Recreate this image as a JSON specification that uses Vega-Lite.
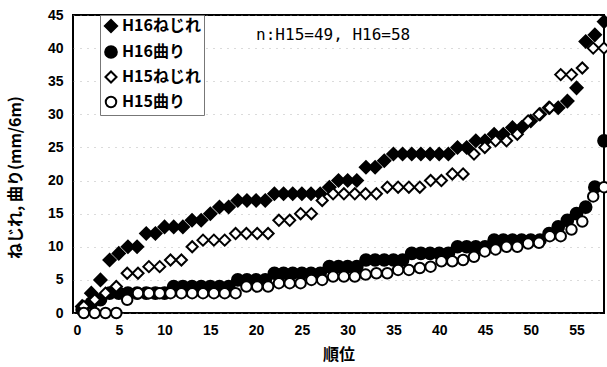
{
  "$schema": "https://vega.github.io/schema/vega-lite/v6.json",
  "width": 531,
  "height": 298,
  "autosize": {"type": "none"},
  "padding": {"left": 73, "top": 15, "right": 3, "bottom": 54},
  "background": "white",
  "config": {
    "view": {"stroke": "black", "strokeWidth": 2},
    "font": "Liberation Sans",
    "legend": {
      "title": null,
      "orient": "none", "legendX": 27, "legendY": 0,
      "labelFont": "Noto Sans CJK JP", "labelFontSize": 16, "labelFontWeight": "bold",
      "labelColor": "black", "labelOffset": 3,
      "symbolStrokeWidth": 2, "rowPadding": 5,
      "padding": 3, "fillColor": "white", "strokeColor": "#777777"
    }
  },
  "datasets": {
    "points": [
      {"series": "H16ねじれ", "pos": 1, "value": 1}, {"series": "H16ねじれ", "pos": 2, "value": 3}, {"series": "H16ねじれ", "pos": 3, "value": 5}, {"series": "H16ねじれ", "pos": 4, "value": 8}, {"series": "H16ねじれ", "pos": 5, "value": 9}, {"series": "H16ねじれ", "pos": 6, "value": 10}, {"series": "H16ねじれ", "pos": 7, "value": 10}, {"series": "H16ねじれ", "pos": 8, "value": 12}, {"series": "H16ねじれ", "pos": 9, "value": 12}, {"series": "H16ねじれ", "pos": 10, "value": 13},
      {"series": "H16ねじれ", "pos": 11, "value": 13}, {"series": "H16ねじれ", "pos": 12, "value": 13}, {"series": "H16ねじれ", "pos": 13, "value": 14}, {"series": "H16ねじれ", "pos": 14, "value": 14}, {"series": "H16ねじれ", "pos": 15, "value": 15}, {"series": "H16ねじれ", "pos": 16, "value": 16}, {"series": "H16ねじれ", "pos": 17, "value": 16}, {"series": "H16ねじれ", "pos": 18, "value": 17}, {"series": "H16ねじれ", "pos": 19, "value": 17}, {"series": "H16ねじれ", "pos": 20, "value": 17},
      {"series": "H16ねじれ", "pos": 21, "value": 17}, {"series": "H16ねじれ", "pos": 22, "value": 18}, {"series": "H16ねじれ", "pos": 23, "value": 18}, {"series": "H16ねじれ", "pos": 24, "value": 18}, {"series": "H16ねじれ", "pos": 25, "value": 18}, {"series": "H16ねじれ", "pos": 26, "value": 18}, {"series": "H16ねじれ", "pos": 27, "value": 18}, {"series": "H16ねじれ", "pos": 28, "value": 19}, {"series": "H16ねじれ", "pos": 29, "value": 20}, {"series": "H16ねじれ", "pos": 30, "value": 20},
      {"series": "H16ねじれ", "pos": 31, "value": 20}, {"series": "H16ねじれ", "pos": 32, "value": 22}, {"series": "H16ねじれ", "pos": 33, "value": 22}, {"series": "H16ねじれ", "pos": 34, "value": 23}, {"series": "H16ねじれ", "pos": 35, "value": 24}, {"series": "H16ねじれ", "pos": 36, "value": 24}, {"series": "H16ねじれ", "pos": 37, "value": 24}, {"series": "H16ねじれ", "pos": 38, "value": 24}, {"series": "H16ねじれ", "pos": 39, "value": 24}, {"series": "H16ねじれ", "pos": 40, "value": 24},
      {"series": "H16ねじれ", "pos": 41, "value": 24}, {"series": "H16ねじれ", "pos": 42, "value": 25}, {"series": "H16ねじれ", "pos": 43, "value": 25}, {"series": "H16ねじれ", "pos": 44, "value": 26}, {"series": "H16ねじれ", "pos": 45, "value": 26}, {"series": "H16ねじれ", "pos": 46, "value": 27}, {"series": "H16ねじれ", "pos": 47, "value": 27}, {"series": "H16ねじれ", "pos": 48, "value": 28}, {"series": "H16ねじれ", "pos": 49, "value": 28}, {"series": "H16ねじれ", "pos": 50, "value": 29},
      {"series": "H16ねじれ", "pos": 51, "value": 30}, {"series": "H16ねじれ", "pos": 52, "value": 31}, {"series": "H16ねじれ", "pos": 53, "value": 31}, {"series": "H16ねじれ", "pos": 54, "value": 32}, {"series": "H16ねじれ", "pos": 55, "value": 34}, {"series": "H16ねじれ", "pos": 56, "value": 41}, {"series": "H16ねじれ", "pos": 57, "value": 42}, {"series": "H16ねじれ", "pos": 58, "value": 44},

      {"series": "H16曲り", "pos": 1, "value": 0.5}, {"series": "H16曲り", "pos": 2, "value": 1.5}, {"series": "H16曲り", "pos": 3, "value": 2}, {"series": "H16曲り", "pos": 4, "value": 3}, {"series": "H16曲り", "pos": 5, "value": 3}, {"series": "H16曲り", "pos": 6, "value": 3}, {"series": "H16曲り", "pos": 7, "value": 3}, {"series": "H16曲り", "pos": 8, "value": 3}, {"series": "H16曲り", "pos": 9, "value": 3}, {"series": "H16曲り", "pos": 10, "value": 3},
      {"series": "H16曲り", "pos": 11, "value": 4}, {"series": "H16曲り", "pos": 12, "value": 4}, {"series": "H16曲り", "pos": 13, "value": 4}, {"series": "H16曲り", "pos": 14, "value": 4}, {"series": "H16曲り", "pos": 15, "value": 4}, {"series": "H16曲り", "pos": 16, "value": 4}, {"series": "H16曲り", "pos": 17, "value": 4}, {"series": "H16曲り", "pos": 18, "value": 5}, {"series": "H16曲り", "pos": 19, "value": 5}, {"series": "H16曲り", "pos": 20, "value": 5},
      {"series": "H16曲り", "pos": 21, "value": 5}, {"series": "H16曲り", "pos": 22, "value": 6}, {"series": "H16曲り", "pos": 23, "value": 6}, {"series": "H16曲り", "pos": 24, "value": 6}, {"series": "H16曲り", "pos": 25, "value": 6}, {"series": "H16曲り", "pos": 26, "value": 6}, {"series": "H16曲り", "pos": 27, "value": 6}, {"series": "H16曲り", "pos": 28, "value": 7}, {"series": "H16曲り", "pos": 29, "value": 7}, {"series": "H16曲り", "pos": 30, "value": 7},
      {"series": "H16曲り", "pos": 31, "value": 7}, {"series": "H16曲り", "pos": 32, "value": 8}, {"series": "H16曲り", "pos": 33, "value": 8}, {"series": "H16曲り", "pos": 34, "value": 8}, {"series": "H16曲り", "pos": 35, "value": 8}, {"series": "H16曲り", "pos": 36, "value": 8}, {"series": "H16曲り", "pos": 37, "value": 9}, {"series": "H16曲り", "pos": 38, "value": 9}, {"series": "H16曲り", "pos": 39, "value": 9}, {"series": "H16曲り", "pos": 40, "value": 9},
      {"series": "H16曲り", "pos": 41, "value": 9}, {"series": "H16曲り", "pos": 42, "value": 10}, {"series": "H16曲り", "pos": 43, "value": 10}, {"series": "H16曲り", "pos": 44, "value": 10}, {"series": "H16曲り", "pos": 45, "value": 10}, {"series": "H16曲り", "pos": 46, "value": 11}, {"series": "H16曲り", "pos": 47, "value": 11}, {"series": "H16曲り", "pos": 48, "value": 11}, {"series": "H16曲り", "pos": 49, "value": 11}, {"series": "H16曲り", "pos": 50, "value": 11},
      {"series": "H16曲り", "pos": 51, "value": 11}, {"series": "H16曲り", "pos": 52, "value": 12}, {"series": "H16曲り", "pos": 53, "value": 13}, {"series": "H16曲り", "pos": 54, "value": 14}, {"series": "H16曲り", "pos": 55, "value": 15}, {"series": "H16曲り", "pos": 56, "value": 16}, {"series": "H16曲り", "pos": 57, "value": 19}, {"series": "H16曲り", "pos": 58, "value": 26},

      {"series": "H15ねじれ", "pos": 1.18, "value": 1}, {"series": "H15ねじれ", "pos": 2.37, "value": 2}, {"series": "H15ねじれ", "pos": 3.55, "value": 3}, {"series": "H15ねじれ", "pos": 4.73, "value": 4}, {"series": "H15ねじれ", "pos": 5.92, "value": 6}, {"series": "H15ねじれ", "pos": 7.1, "value": 6}, {"series": "H15ねじれ", "pos": 8.29, "value": 7}, {"series": "H15ねじれ", "pos": 9.47, "value": 7}, {"series": "H15ねじれ", "pos": 10.65, "value": 8}, {"series": "H15ねじれ", "pos": 11.84, "value": 8},
      {"series": "H15ねじれ", "pos": 13.02, "value": 10}, {"series": "H15ねじれ", "pos": 14.2, "value": 11}, {"series": "H15ねじれ", "pos": 15.39, "value": 11}, {"series": "H15ねじれ", "pos": 16.57, "value": 11}, {"series": "H15ねじれ", "pos": 17.76, "value": 12}, {"series": "H15ねじれ", "pos": 18.94, "value": 12}, {"series": "H15ねじれ", "pos": 20.12, "value": 12}, {"series": "H15ねじれ", "pos": 21.31, "value": 12}, {"series": "H15ねじれ", "pos": 22.49, "value": 14}, {"series": "H15ねじれ", "pos": 23.67, "value": 14},
      {"series": "H15ねじれ", "pos": 24.86, "value": 15}, {"series": "H15ねじれ", "pos": 26.04, "value": 15}, {"series": "H15ねじれ", "pos": 27.22, "value": 17}, {"series": "H15ねじれ", "pos": 28.41, "value": 18}, {"series": "H15ねじれ", "pos": 29.59, "value": 18}, {"series": "H15ねじれ", "pos": 30.78, "value": 18}, {"series": "H15ねじれ", "pos": 31.96, "value": 18}, {"series": "H15ねじれ", "pos": 33.14, "value": 18}, {"series": "H15ねじれ", "pos": 34.33, "value": 19}, {"series": "H15ねじれ", "pos": 35.51, "value": 19},
      {"series": "H15ねじれ", "pos": 36.69, "value": 19}, {"series": "H15ねじれ", "pos": 37.88, "value": 19}, {"series": "H15ねじれ", "pos": 39.06, "value": 20}, {"series": "H15ねじれ", "pos": 40.24, "value": 20}, {"series": "H15ねじれ", "pos": 41.43, "value": 21}, {"series": "H15ねじれ", "pos": 42.61, "value": 21}, {"series": "H15ねじれ", "pos": 43.8, "value": 24}, {"series": "H15ねじれ", "pos": 44.98, "value": 25}, {"series": "H15ねじれ", "pos": 46.16, "value": 26}, {"series": "H15ねじれ", "pos": 47.35, "value": 26},
      {"series": "H15ねじれ", "pos": 48.53, "value": 27}, {"series": "H15ねじれ", "pos": 49.71, "value": 29}, {"series": "H15ねじれ", "pos": 50.9, "value": 30}, {"series": "H15ねじれ", "pos": 52.08, "value": 31}, {"series": "H15ねじれ", "pos": 53.27, "value": 36}, {"series": "H15ねじれ", "pos": 54.45, "value": 36}, {"series": "H15ねじれ", "pos": 55.63, "value": 37}, {"series": "H15ねじれ", "pos": 56.82, "value": 40}, {"series": "H15ねじれ", "pos": 58, "value": 40},

      {"series": "H15曲り", "pos": 1.18, "value": 0}, {"series": "H15曲り", "pos": 2.37, "value": 0}, {"series": "H15曲り", "pos": 3.55, "value": 0}, {"series": "H15曲り", "pos": 4.73, "value": 0}, {"series": "H15曲り", "pos": 5.92, "value": 2}, {"series": "H15曲り", "pos": 7.1, "value": 3}, {"series": "H15曲り", "pos": 8.29, "value": 3}, {"series": "H15曲り", "pos": 9.47, "value": 3}, {"series": "H15曲り", "pos": 10.65, "value": 3}, {"series": "H15曲り", "pos": 11.84, "value": 3},
      {"series": "H15曲り", "pos": 13.02, "value": 3}, {"series": "H15曲り", "pos": 14.2, "value": 3}, {"series": "H15曲り", "pos": 15.39, "value": 3}, {"series": "H15曲り", "pos": 16.57, "value": 3}, {"series": "H15曲り", "pos": 17.76, "value": 3}, {"series": "H15曲り", "pos": 18.94, "value": 4}, {"series": "H15曲り", "pos": 20.12, "value": 4}, {"series": "H15曲り", "pos": 21.31, "value": 4}, {"series": "H15曲り", "pos": 22.49, "value": 4.5}, {"series": "H15曲り", "pos": 23.67, "value": 4.5},
      {"series": "H15曲り", "pos": 24.86, "value": 4.5}, {"series": "H15曲り", "pos": 26.04, "value": 5}, {"series": "H15曲り", "pos": 27.22, "value": 5}, {"series": "H15曲り", "pos": 28.41, "value": 5.5}, {"series": "H15曲り", "pos": 29.59, "value": 5.5}, {"series": "H15曲り", "pos": 30.78, "value": 5.5}, {"series": "H15曲り", "pos": 31.96, "value": 5.8}, {"series": "H15曲り", "pos": 33.14, "value": 6}, {"series": "H15曲り", "pos": 34.33, "value": 6}, {"series": "H15曲り", "pos": 35.51, "value": 6.5},
      {"series": "H15曲り", "pos": 36.69, "value": 6.5}, {"series": "H15曲り", "pos": 37.88, "value": 6.8}, {"series": "H15曲り", "pos": 39.06, "value": 7}, {"series": "H15曲り", "pos": 40.24, "value": 7.8}, {"series": "H15曲り", "pos": 41.43, "value": 7.8}, {"series": "H15曲り", "pos": 42.61, "value": 8}, {"series": "H15曲り", "pos": 43.8, "value": 8.5}, {"series": "H15曲り", "pos": 44.98, "value": 9.3}, {"series": "H15曲り", "pos": 46.16, "value": 9.6}, {"series": "H15曲り", "pos": 47.35, "value": 10},
      {"series": "H15曲り", "pos": 48.53, "value": 10}, {"series": "H15曲り", "pos": 49.71, "value": 10.5}, {"series": "H15曲り", "pos": 50.9, "value": 10.6}, {"series": "H15曲り", "pos": 52.08, "value": 11.6}, {"series": "H15曲り", "pos": 53.27, "value": 11.6}, {"series": "H15曲り", "pos": 54.45, "value": 12.6}, {"series": "H15曲り", "pos": 55.63, "value": 13.8}, {"series": "H15曲り", "pos": 56.82, "value": 17.6}, {"series": "H15曲り", "pos": 58, "value": 19}
    ],
    "note": [{"text": "n:H15=49, H16=58", "pos": 20, "value": 42}]
  },
  "layer": [
    {
      "data": {"name": "points"},
      "mark": {"type": "point", "strokeWidth": 2, "opacity": 1},
      "encoding": {
        "x": {
          "field": "pos", "type": "quantitative",
          "scale": {"domain": [0, 58], "nice": false, "zero": true},
          "axis": {
            "values": [0, 5, 10, 15, 20, 25, 30, 35, 40, 45, 50, 55],
            "title": "順位",
            "titleFont": "Noto Sans CJK JP", "titleFontSize": 16, "titleFontWeight": "bold",
            "titlePadding": 9,
            "labelFont": "Liberation Sans", "labelFontSize": 14, "labelFontWeight": "bold",
            "labelColor": "black", "labelPadding": 10, "labelOverlap": false,
            "grid": false, "domain": false, "ticks": false
          }
        },
        "y": {
          "field": "value", "type": "quantitative",
          "scale": {"domain": [0, 45], "nice": false},
          "axis": {
            "values": [0, 5, 10, 15, 20, 25, 30, 35, 40, 45],
            "title": "ねじれ, 曲り(mm/6m)",
            "titleFont": "Noto Sans CJK JP", "titleFontSize": 16, "titleFontWeight": "bold",
            "titleX": -50, "titleY": 162,
            "labelFont": "Liberation Sans", "labelFontSize": 14, "labelFontWeight": "bold",
            "labelColor": "black", "labelPadding": 10, "labelOverlap": false,
            "grid": true, "gridColor": "#999999", "gridDash": [1, 6], "gridOpacity": 0.7,
            "domain": false, "ticks": false
          }
        },
        "shape": {
          "field": "series", "type": "nominal",
          "scale": {
            "domain": ["H16ねじれ", "H16曲り", "H15ねじれ", "H15曲り"],
            "range": ["diamond", "circle", "diamond", "circle"]
          }
        },
        "fill": {
          "field": "series", "type": "nominal",
          "scale": {
            "domain": ["H16ねじれ", "H16曲り", "H15ねじれ", "H15曲り"],
            "range": ["black", "black", "white", "white"]
          }
        },
        "stroke": {
          "field": "series", "type": "nominal",
          "scale": {
            "domain": ["H16ねじれ", "H16曲り", "H15ねじれ", "H15曲り"],
            "range": ["black", "black", "black", "black"]
          }
        },
        "size": {
          "field": "series", "type": "nominal",
          "scale": {
            "domain": ["H16ねじれ", "H16曲り", "H15ねじれ", "H15曲り"],
            "range": [150, 110, 120, 95]
          }
        }
      }
    },
    {
      "data": {"name": "note"},
      "mark": {"type": "text", "align": "left", "baseline": "middle", "font": "DejaVu Sans Mono", "fontSize": 16, "color": "black"},
      "encoding": {
        "x": {
          "field": "pos", "type": "quantitative",
          "scale": {"domain": [0, 58], "nice": false, "zero": true},
          "axis": {
            "values": [0, 5, 10, 15, 20, 25, 30, 35, 40, 45, 50, 55],
            "title": "順位",
            "titleFont": "Noto Sans CJK JP", "titleFontSize": 16, "titleFontWeight": "bold",
            "titlePadding": 9,
            "labelFont": "Liberation Sans", "labelFontSize": 14, "labelFontWeight": "bold",
            "labelColor": "black", "labelPadding": 10, "labelOverlap": false,
            "grid": false, "domain": false, "ticks": false
          }
        },
        "y": {
          "field": "value", "type": "quantitative",
          "scale": {"domain": [0, 45], "nice": false},
          "axis": {
            "values": [0, 5, 10, 15, 20, 25, 30, 35, 40, 45],
            "title": "ねじれ, 曲り(mm/6m)",
            "titleFont": "Noto Sans CJK JP", "titleFontSize": 16, "titleFontWeight": "bold",
            "titleX": -50, "titleY": 162,
            "labelFont": "Liberation Sans", "labelFontSize": 14, "labelFontWeight": "bold",
            "labelColor": "black", "labelPadding": 10, "labelOverlap": false,
            "grid": true, "gridColor": "#999999", "gridDash": [1, 6], "gridOpacity": 0.7,
            "domain": false, "ticks": false
          }
        },
        "text": {"field": "text", "type": "nominal"}
      }
    }
  ]
}
